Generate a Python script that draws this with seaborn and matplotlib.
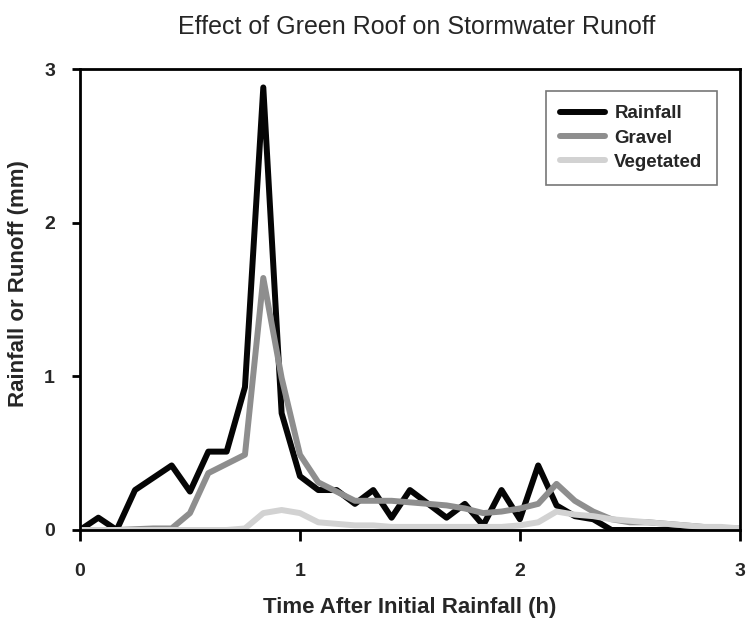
import numpy as np
import pandas as pd
import matplotlib
matplotlib.use("Agg")
import matplotlib.pyplot as plt
import seaborn as sns

# time in minutes after initial rainfall (5-min steps)
minutes = [0, 5, 10, 15, 20, 25, 30, 35, 40, 45, 50, 55, 60, 65, 70, 75, 80, 85, 90,
           95, 100, 105, 110, 115, 120, 125, 130, 135, 140, 145, 150, 155, 160, 165,
           170, 175, 180]

rainfall = [0.0, 0.08, 0.0, 0.26, 0.34, 0.42, 0.25, 0.51, 0.51, 0.93, 2.88, 0.76,
            0.35, 0.26, 0.26, 0.17, 0.26, 0.08, 0.26, 0.17, 0.08, 0.17, 0.03, 0.26,
            0.07, 0.42, 0.16, 0.09, 0.07, 0.0, 0.0, 0.0, 0.0, 0.0, 0.0, 0.0, 0.0]

gravel = [0.0, 0.0, 0.0, 0.005, 0.01, 0.01, 0.11, 0.37, 0.43, 0.49, 1.64, 0.99,
          0.49, 0.31, 0.25, 0.19, 0.19, 0.19, 0.18, 0.17, 0.16, 0.14, 0.11, 0.12,
          0.14, 0.17, 0.30, 0.19, 0.12, 0.07, 0.05, 0.05, 0.04, 0.03, 0.02, 0.01, 0.01]

vegetated = [0.0, 0.0, 0.0, 0.0, 0.0, 0.0, 0.0, 0.0, 0.0, 0.01, 0.11, 0.13,
             0.11, 0.05, 0.04, 0.03, 0.03, 0.02, 0.02, 0.02, 0.02, 0.02, 0.02, 0.02,
             0.03, 0.05, 0.12, 0.10, 0.09, 0.07, 0.06, 0.05, 0.04, 0.03, 0.02, 0.02, 0.01]

series_names = ["Rainfall", "Gravel", "Vegetated"]
colors = ["#050505", "#8e8e8e", "#d2d2d2"]

hours = np.array(minutes) / 60.0
df = pd.DataFrame({
    "time": np.tile(hours, 3),
    "value": rainfall + gravel + vegetated,
    "series": np.repeat(series_names, len(minutes)),
})

sns.set_style("ticks")
plt.rcParams["font.family"] = ["Liberation Sans", "DejaVu Sans"]

fig = plt.figure(figsize=(7.48, 6.19), dpi=100)
ax = fig.add_axes([0.107, 0.1438, 0.882, 0.7447])

sns.lineplot(data=df, x="time", y="value", hue="series", hue_order=series_names,
             palette=colors, linewidth=4.3, ax=ax, legend=False)

ax.set_xlim(0, 3)
ax.set_ylim(0, 3)
ax.set_xticks([0, 1, 2, 3])
ax.set_yticks([0, 1, 2, 3])
ax.tick_params(axis="both", direction="out", width=2, color="black", labelsize=14)
ax.tick_params(axis="x", length=8, pad=16)
ax.tick_params(axis="y", length=6, pad=12)
for lbl in ax.get_xticklabels() + ax.get_yticklabels():
    lbl.set_fontweight("bold")

for sp in ax.spines.values():
    sp.set_visible(True)
    sp.set_linewidth(2)
    sp.set_color("black")

ax.set_xlabel("Time After Initial Rainfall (h)", fontsize=16, fontweight="bold", va="center")
ax.set_ylabel("Rainfall or Runoff (mm)", fontsize=16, fontweight="bold", va="center")
ax.xaxis.set_label_coords(0.5, -0.169)
ax.yaxis.set_label_coords(-0.094, 0.534)
fig.text(0.5575, 0.956, "Effect of Green Roof on Stormwater Runoff", ha="center",
         va="center", fontsize=18)

handles = [plt.Line2D([], [], color=c, linewidth=4.3) for c in colors]
leg = ax.legend(handles, series_names, loc="upper right", bbox_to_anchor=(0.965, 0.952),
                prop={"weight": "bold", "size": 13.5}, frameon=True, fancybox=False,
                handlelength=2.4, labelspacing=0.38, borderpad=0.75, handletextpad=0.5,
                borderaxespad=0)
leg.get_frame().set_edgecolor("#555555")
leg.get_frame().set_linewidth(1.2)

fig.savefig("out.png", dpi=100)
